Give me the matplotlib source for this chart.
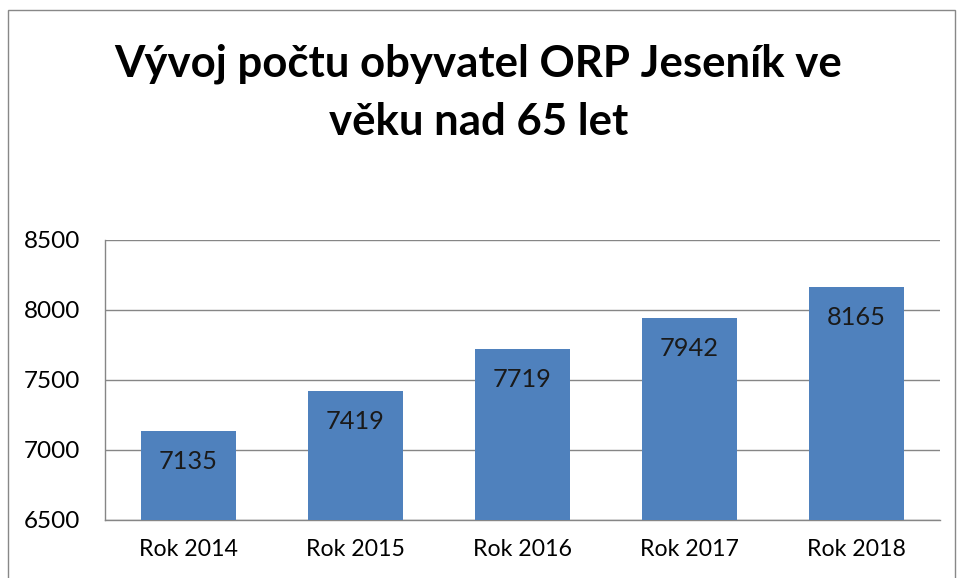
import matplotlib.pyplot as plt
from matplotlib.patches import Rectangle

categories = ["Rok 2014", "Rok 2015", "Rok 2016", "Rok 2017", "Rok 2018"]
values = [7135, 7419, 7719, 7942, 8165]
y_ticks = [6500, 7000, 7500, 8000, 8500]

plt.rcParams['font.family'] = ['Lato', 'DejaVu Sans']

fig = plt.figure(figsize=(9.57, 5.78), dpi=100)
ax = fig.add_axes([105 / 957, 1 - 520 / 578, 835 / 957, 280 / 578])

bar_color = '#4F81BD'
grid_color = '#868686'

x = range(len(categories))
bars = ax.bar(x, values, width=0.57, color=bar_color, zorder=3)

ax.set_ylim(6500, 8500)
ax.set_xlim(-0.5, len(categories) - 0.5)
ax.set_yticks(y_ticks)
ax.set_xticks(list(x))
ax.set_xticklabels(categories, fontsize=16.7)
ax.tick_params(axis='y', labelsize=17.5, length=0, pad=18)
ax.tick_params(axis='x', length=0, pad=14)
ax.yaxis.grid(True, color=grid_color, linewidth=1, zorder=0)

for side in ['top', 'right']:
    ax.spines[side].set_visible(False)
for side in ['left', 'bottom']:
    ax.spines[side].set_color(grid_color)
    ax.spines[side].set_linewidth(1)

# value labels inside the bars, just below the top
for xi, v in zip(x, values):
    ax.annotate(str(v), (xi, v), xytext=(0, -22), textcoords='offset points',
                ha='center', va='center', fontsize=18.3, color='#1a1a1a', zorder=4)

fig.text(0.5, 1 - 64 / 578, "Vývoj počtu obyvatel ORP Jeseník ve", ha='center', va='center',
         fontsize=31.5, fontweight='bold')
fig.text(0.5, 1 - 122 / 578, "věku nad 65 let", ha='center', va='center',
         fontsize=31.5, fontweight='bold')

# outer chart border
fig.patches.append(Rectangle((8 / 957, -0.01), 947 / 957, 1 - 10 / 578 + 0.01,
                             transform=fig.transFigure, fill=False,
                             edgecolor='#888888', linewidth=1))

plt.savefig('out.png', dpi=100)
plt.close()
